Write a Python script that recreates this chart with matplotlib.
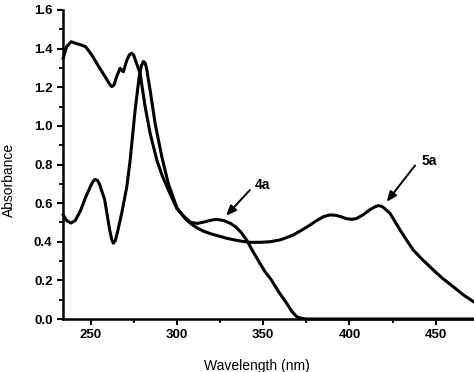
import matplotlib
matplotlib.use("Agg")
import matplotlib.pyplot as plt
from matplotlib.ticker import MultipleLocator

plt.rcParams['font.family'] = ['Liberation Sans', 'DejaVu Sans']

# Spectrum of 4a
wl_4a = [234, 236, 238.6, 241, 244, 247, 250.6, 254.4, 258.3, 261, 262.2, 263.5, 265, 267,
         268.9, 270.9, 272.4, 273.6, 274.8, 275.7, 278.6, 281.5, 284.4, 288.3, 291.5, 295,
         300, 304.7, 308, 312, 316, 320, 323, 327, 331, 334, 337, 340.4, 344,
         348.1, 351, 354.5, 359, 363.6, 366.5, 369.4, 372, 375, 380, 400, 430, 472.2]
abs_4a = [1.35, 1.41, 1.436, 1.428, 1.42, 1.41, 1.367, 1.31, 1.255, 1.215, 1.203, 1.212, 1.255, 1.298,
          1.28, 1.34, 1.368, 1.376, 1.368, 1.345, 1.272, 1.10, 0.962, 0.823, 0.74, 0.668,
          0.570, 0.525, 0.500, 0.495, 0.503, 0.512, 0.516, 0.510, 0.495, 0.477, 0.45, 0.409, 0.35,
          0.288, 0.245, 0.205, 0.14, 0.081, 0.04, 0.012, 0.004, 0.0, 0.0, 0.0, 0.0, 0.0]

# Spectrum of 5a
wl_5a = [234, 236, 238.5, 241, 244, 247, 250, 251.3, 252.5, 253.8, 255, 258, 261, 262.2, 263.1,
         264.2, 265.5, 268, 270.9, 272.8, 275.7, 278, 279.3, 280.5, 281.6, 282.5, 284.4, 287.3,
         291.2, 295, 300, 304.7, 308.5, 312, 315.3, 320, 324, 328.8, 333, 338, 342.3, 348,
         353.9, 360, 367.4, 371.3, 376, 381, 385, 388.7, 392, 395, 398, 401.3, 404, 408, 412,
         415, 416.8, 418.5, 420, 423.5, 426, 429.3, 433, 437, 442, 448.6, 454, 460.2, 466, 472.2]
abs_5a = [0.54, 0.51, 0.497, 0.51, 0.56, 0.63, 0.69, 0.712, 0.723, 0.718, 0.70, 0.62, 0.46, 0.41, 0.392,
          0.405, 0.45, 0.55, 0.685, 0.82, 1.08, 1.25, 1.31, 1.333, 1.325, 1.29, 1.186, 1.013,
          0.84, 0.70, 0.575, 0.52, 0.49, 0.47, 0.455, 0.44, 0.43, 0.418, 0.41, 0.402, 0.397, 0.397,
          0.40, 0.41, 0.435, 0.455, 0.48, 0.51, 0.53, 0.539, 0.537, 0.53, 0.52, 0.516, 0.52, 0.54, 0.567,
          0.582, 0.587, 0.584, 0.575, 0.547, 0.51, 0.461, 0.41, 0.357, 0.31, 0.254, 0.21, 0.167, 0.125, 0.088]

x_ticks = [250, 300, 350, 400, 450]
y_ticks = [0.0, 0.2, 0.4, 0.6, 0.8, 1.0, 1.2, 1.4, 1.6]

fig = plt.figure(figsize=(4.74, 3.72), dpi=100)
ax = fig.add_axes([63/474, 53/372, 411/474, 309/372])

ax.plot(wl_4a, abs_4a, color='black', lw=2.2, solid_joinstyle='round', clip_on=False)
ax.plot(wl_5a, abs_5a, color='black', lw=2.2, solid_joinstyle='round', clip_on=False)

ax.set_xlim(233.9, 472.2)
ax.set_ylim(0, 1.6)

ax.set_xticks(x_ticks)
ax.set_yticks(y_ticks)
ax.set_yticklabels([f"{v:.1f}" for v in y_ticks])
ax.xaxis.set_minor_locator(MultipleLocator(25))
ax.yaxis.set_minor_locator(MultipleLocator(0.1))

for s in ['top', 'right']:
    ax.spines[s].set_visible(False)
for s in ['left', 'bottom']:
    ax.spines[s].set_linewidth(1.8)

ax.tick_params(axis='both', which='major', direction='out', length=4.5, width=1.5,
               labelsize=9.5, pad=3)
ax.tick_params(axis='both', which='minor', direction='out', length=3, width=1.3)
for lab in ax.get_xticklabels() + ax.get_yticklabels():
    lab.set_fontweight('bold')

fig.text(9/474, 1 - 180/372, 'Absorbance', rotation=90, ha='center', va='center', fontsize=10)
fig.text(257/474, 1 - 366/372, 'Wavelength (nm)', ha='center', va='center', fontsize=10)

arrow = dict(arrowstyle='-|>,head_length=0.6,head_width=0.25', lw=1.4, color='black',
             shrinkA=0, shrinkB=0)
ax.annotate('', xy=(328.5, 0.535), xytext=(342.3, 0.668), arrowprops=arrow)
ax.text(349.5, 0.692, '4a', ha='center', va='center', fontsize=10, fontweight='bold')
ax.annotate('', xy=(421.6, 0.607), xytext=(438.0, 0.795), arrowprops=arrow)
ax.text(446.1, 0.82, '5a', ha='center', va='center', fontsize=10, fontweight='bold')

fig.savefig('out.png', dpi=100)
